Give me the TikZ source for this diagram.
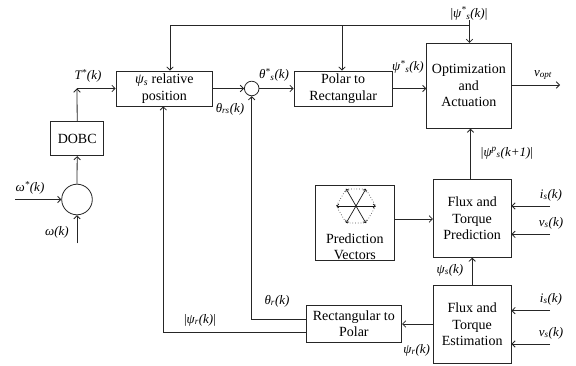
\documentclass[tikz,border=0pt]{standalone}
\usepackage{fontspec}
\setmainfont{Liberation Serif}
\usetikzlibrary{arrows.meta,calc}
\newcommand{\ssub}[1]{\textsubscript{\textit{#1}}}
\begin{document}
\begin{tikzpicture}[x=1pt,y=-1pt,
  ln/.style={draw=black!85,line width=0.8pt},
  arr/.style={ln,-{Straight Barb[length=3.2pt,width=6.5pt]}},
  blk/.style={ln,rectangle,fill=white,align=center,inner sep=0pt,
     font=\fontsize{14}{16.5}\selectfont},
  lbl/.style={inner sep=0pt,font=\fontsize{13}{15}\selectfont\itshape},
  sumc/.style={ln,circle,inner sep=0pt}]
\useasboundingbox (0,0) rectangle (576,366);

% blocks
\node[blk,minimum width=96.7pt,minimum height=35pt] (rel) at (164.35,88.5) {\textit{ψ}\ssub{s} relative\\position};
\node[blk,minimum width=53pt,minimum height=34.4pt] (dobc) at (77.2,138.5) {DOBC};
\node[sumc,minimum size=14.6pt] (s1) at (251.7,88.5) {};
\node[sumc,minimum size=30.6pt] (s2) at (77,199.5) {};
\node[blk,minimum width=98.3pt,minimum height=35pt] (p2r) at (343.15,88.5) {Polar to\\Rectangular};
\node[blk,minimum width=84.3pt,minimum height=85pt] (opt) at (468.85,85.8) {Optimization\\and\\Actuation};
\node[blk,minimum width=77.7pt,minimum height=78pt] (ftp) at (472.2,218.3) {Flux and\\Torque\\Prediction};
\node[blk,minimum width=78.3pt,minimum height=75pt] (pv) at (354.85,222.5) {};
\node[blk,draw=none,fill=none] (pvt) at (354.85,246.5) {Prediction\\Vectors};
\node[blk,minimum width=77.7pt,minimum height=77.6pt] (fte) at (472.2,324.5) {Flux and\\Torque\\Estimation};
\node[blk,minimum width=95.7pt,minimum height=37.7pt] (r2p) at (353.85,323.85) {Rectangular to\\Polar};

% hexagon icon
\coordinate (hc) at (356,206);
\draw[black!70,line width=0.7pt,dotted] ($(hc)+(0:19.7)$) -- ($(hc)+(60:19.7)$) -- ($(hc)+(120:19.7)$) -- ($(hc)+(180:19.7)$) -- ($(hc)+(240:19.7)$) -- ($(hc)+(300:19.7)$) -- cycle;
\foreach \a in {0,60,...,300}
  \draw[black!90,line width=0.7pt,-{Straight Barb[length=2pt,width=4pt]}] (hc) -- ($(hc)+(\a:19.7)$);

% labels
\node[lbl] (lT) at (88,76) {T\textsuperscript{*}(k)};
\node[lbl] (lth) at (274,75) {θ\textsuperscript{*}\ssub{s}(k)};
\node[lbl] (lthrs) at (230,109) {θ\ssub{rs}(k)};
\node[lbl] (lpsis) at (408,67) {ψ\textsuperscript{*}\ssub{s}(k)};
\node[lbl] (lpsiabs) at (469,13.5) {\upshape|\itshape ψ\textsuperscript{*}\ssub{s}(k)\upshape|};
\node[lbl] (lvopt) at (543,75) {v\ssub{opt}};
\node[lbl] (lpsip) at (507,153) {\upshape|\itshape ψ\textsuperscript{p}\ssub{s}(k+1)\upshape|};
\node[lbl] (li1) at (551,195) {i\ssub{s}(k)};
\node[lbl] (lv1) at (551,223) {v\ssub{s}(k)};
\node[lbl] (li2) at (551,299) {i\ssub{s}(k)};
\node[lbl] (lv2) at (551,333) {v\ssub{s}(k)};
\node[lbl] (lpsisk) at (450,270) {ψ\ssub{s}(k)};
\node[lbl] (lpsir) at (416.7,350) {ψ\ssub{r}(k)};
\node[lbl] (lthr) at (277,301) {θ\ssub{r}(k)};
\node[lbl] (lpsirabs) at (200,320) {\upshape|\itshape ψ\ssub{r}(k)\upshape|};
\node[lbl] (lwst) at (30,188) {ω\textsuperscript{*}(k)};
\node[lbl] (lw) at (57,232) {ω(k)};

% coordinates
\coordinate (tl) at (170,25.5);
\coordinate (tm) at (342,25.5);
\coordinate (tr) at (469.5,25.5);
\coordinate (tc) at (77,88.5);
\coordinate (wst) at (15,199.5);
\coordinate (wb) at (77,243.3);
\coordinate (vo) at (560,85);
\coordinate (i1) at (550,206);
\coordinate (v1) at (550,234.3);
\coordinate (i2) at (550,310.7);
\coordinate (v2) at (550,344);
\coordinate (thr) at (251.7,319.5);
\coordinate (psr) at (163.3,332.5);
\coordinate (pa) at (470.5,0);
\coordinate (pb) at (0,219);
\coordinate (pc) at (0,324);

% connectors
\draw[arr] (wst) -- (s2.west);
\draw[arr] (wb) -- (s2.south);
\draw[arr] (s2.north) -- (dobc.south);
\draw[arr] (dobc.north) -- (tc);
\draw[arr] (tc) -- (rel.west);
\draw[arr] (rel.east) -- (s1.west);
\draw[arr] (s1.east) -- (p2r.west);
\draw[arr] (p2r.east) -- (p2r.east -| opt.west);
\draw[arr] (opt.east |- vo) -- (vo);
\draw[arr] (tl) -- (tl |- rel.north);
\draw[ln] (tl) -- (tr);
\draw[arr] (tm) -- (tm |- p2r.north);
\draw[arr] (tr |- lpsiabs.south) -- (tr |- opt.north);
\draw[arr] (pa |- ftp.north) -- (pa |- opt.south);
\draw[arr] (pv.east |- pb) -- (ftp.west |- pb);
\draw[arr] (i1) -- (i1 -| ftp.east);
\draw[arr] (v1) -- (v1 -| ftp.east);
\draw[arr] (i2) -- (i2 -| fte.east);
\draw[arr] (v2) -- (v2 -| fte.east);
\draw[arr] (fte.north) -- (ftp.south);
\draw[arr] (fte.west |- pc) -- (r2p.east |- pc);
\draw[arr] (r2p.west |- thr) -- (thr) -- (s1.south);
\draw[arr] (r2p.west |- psr) -- (psr) -- (psr |- rel.south);
\end{tikzpicture}
\end{document}
